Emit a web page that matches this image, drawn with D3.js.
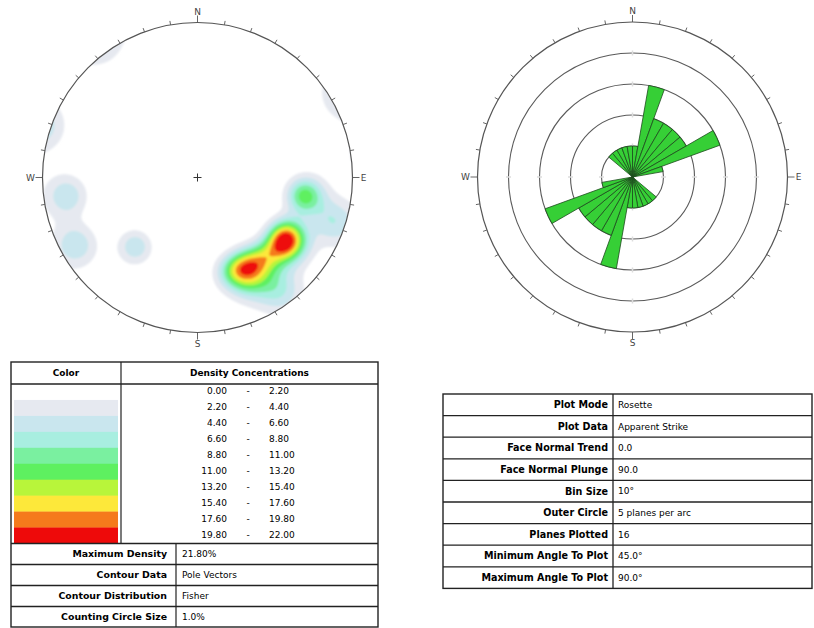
<!DOCTYPE html>
<html>
<head>
<meta charset="utf-8">
<script src="https://cdn.jsdelivr.net/npm/d3@7"></script>
<style>
  html, body { margin: 0; padding: 0; background: #fff; }
  svg { display: block; font-family: "DejaVu Sans", sans-serif; }
</style>
</head>
<body>
<svg id="chart" width="814" height="628"></svg>
<script>
// ---- compass ----
const compassLabels = ["N", "E", "S", "W"];
const compassBearings = [0, 90, 180, 270];

// ---- pole vectors (trend / plunge in degrees), lower hemisphere ----
const poleTrend  = [262, 241, 222, 108, 144,
                    99.4, 100.1,
                    155.3, 144.2, 149.1, 159.9, 152.5,
                    126.8, 124.2, 121.8, 128.5,
                    137.7];
const polePlunge = [  9,   6,  28,   4,   6,
                    20.8, 18.6,
                    23.4, 20.9, 25.2, 24.0, 15.5,
                    22.1, 17.8, 21.6, 18.4,
                    21.9];

// ---- contour intervals (% of total per 1% area) and fills ----
const densityLevels = [0, 2.2, 4.4, 6.6, 8.8, 11, 13.2, 15.4, 17.6, 19.8, 22];
const densityColors = ["#ffffff", "#e6e9f0", "#c9e6ee", "#a8eee0", "#7af0a0",
                       "#5ef060", "#b8f53a", "#fde83a", "#f57a1c", "#ee0a0a"];

// ---- rosette: apparent strike, 10 degree bins, planes per bin (0-180, mirrored) ----
const binStart = [0, 10, 20, 30, 40, 50, 60, 70, 80, 90, 100, 110, 120, 130, 140, 150, 160, 170];
const binCount = [1, 3, 2, 2, 2, 2, 3, 1, 0, 0, 0, 0, 0, 1, 1, 1, 1, 1];
const ringSteps = [1, 2, 3, 4, 5];

// ---- info tables ----
const contourRowLabels = ["Maximum Density", "Contour Data", "Contour Distribution", "Counting Circle Size"];
const contourRowValues = ["21.80%", "Pole Vectors", "Fisher", "1.0%"];
const roseRowLabels = ["Plot Mode", "Plot Data", "Face Normal Trend", "Face Normal Plunge", "Bin Size",
                       "Outer Circle", "Planes Plotted", "Minimum Angle To Plot", "Maximum Angle To Plot"];
const roseRowValues = ["Rosette", "Apparent Strike", "0.0", "90.0", "10°",
                       "5 planes per arc", "16", "45.0°", "90.0°"];

const svg = d3.select("#chart");
const rad = Math.PI / 180;

// ===================== stereonet density plot =====================
const st = { cx: 197.5, cy: 177.5, R: 155 };
const poleUnit = 6.25;            // density (%) under one isolated pole
const kernelRadius = 9 * rad;     // Fisher counting kernel angular width
const poles = poleTrend.map((t, i) => {
  const tr = t * rad, pl = polePlunge[i] * rad;
  return [Math.cos(pl) * Math.sin(tr), Math.cos(pl) * Math.cos(tr), -Math.sin(pl)];
});
const kappa = 2 / (kernelRadius * kernelRadius);

// density at a projected point (u east, v north, in units of R); axial data
function density(u, v) {
  const rho = Math.hypot(u, v);
  const pl = Math.PI / 2 - 2 * Math.atan(rho);   // equal-angle projection
  const tr = Math.atan2(u, v);
  const x = Math.cos(pl) * Math.sin(tr), y = Math.cos(pl) * Math.cos(tr), z = -Math.sin(pl);
  let s = 0;
  for (const p of poles) {
    const c = Math.abs(x * p[0] + y * p[1] + z * p[2]);
    s += Math.exp(kappa * (c - 1));
  }
  return s * poleUnit;
}

const n = Math.ceil(2 * st.R + 8);
const x0 = st.cx - n / 2, y0 = st.cy - n / 2;
const grid = new Float64Array(n * n);
for (let j = 0; j < n; j++) {
  for (let i = 0; i < n; i++) {
    const u = (x0 + i + 0.5 - st.cx) / st.R;
    const v = -(y0 + j + 0.5 - st.cy) / st.R;
    grid[j * n + i] = density(u, v);
  }
}

const bands = d3.contours().size([n, n]).thresholds(densityLevels.slice(1, -1))(grid);
const contourPath = d3.geoPath(d3.geoIdentity().translate([x0, y0]));

const defs = svg.append("defs");
defs.append("clipPath").attr("id", "netClip")
  .append("circle").attr("cx", st.cx).attr("cy", st.cy).attr("r", st.R);
defs.append("filter").attr("id", "soft").attr("x", "-5%").attr("y", "-5%").attr("width", "110%").attr("height", "110%")
  .append("feGaussianBlur").attr("stdDeviation", 1);

svg.append("g").attr("clip-path", "url(#netClip)")
  .append("g").attr("filter", "url(#soft)")
  .selectAll("path").data(bands).join("path")
  .attr("d", contourPath)
  .attr("fill", (d, i) => densityColors[i + 1])
  .attr("stroke", "none");

function drawCompass(c, labelOffsets) {
  const g = svg.append("g");
  g.append("circle").attr("cx", c.cx).attr("cy", c.cy).attr("r", c.R)
    .attr("fill", "none").attr("stroke", "#555").attr("stroke-width", 1.2);
  const ticks = d3.range(0, 360, 10);
  g.selectAll("line.tick").data(ticks).join("line").attr("class", "tick")
    .attr("x1", d => c.cx + c.R * Math.sin(d * rad))
    .attr("y1", d => c.cy - c.R * Math.cos(d * rad))
    .attr("x2", d => c.cx + (c.R + (d % 90 === 0 ? 7 : 4)) * Math.sin(d * rad))
    .attr("y2", d => c.cy - (c.R + (d % 90 === 0 ? 7 : 4)) * Math.cos(d * rad))
    .attr("stroke", "#555").attr("stroke-width", 0.9);
  g.selectAll("text.dir").data(compassLabels).join("text").attr("class", "dir")
    .attr("x", (d, i) => c.cx + (c.R + labelOffsets[i]) * Math.sin(compassBearings[i] * rad))
    .attr("y", (d, i) => c.cy - (c.R + labelOffsets[i]) * Math.cos(compassBearings[i] * rad))
    .attr("dy", "0.35em").attr("text-anchor", "middle")
    .attr("font-size", 9).attr("fill", "#444").text(d => d);
  return g;
}

const netG = drawCompass(st, [11, 11, 11, 12]);
// centre cross
netG.append("path")
  .attr("d", `M${st.cx - 4},${st.cy}H${st.cx + 4}M${st.cx},${st.cy - 4}V${st.cy + 4}`)
  .attr("stroke", "#333").attr("stroke-width", 1);

// ===================== rosette =====================
const ro = { cx: 632.5, cy: 177, R: 155 };
const rScale = d3.scaleLinear().domain([0, 5]).range([0, ro.R]);
const roseG = svg.append("g").attr("transform", `translate(${ro.cx},${ro.cy})`);

roseG.selectAll("circle.ring").data(ringSteps.slice(0, -1)).join("circle").attr("class", "ring")
  .attr("r", d => rScale(d)).attr("fill", "none")
  .attr("stroke", "#5a5a5a").attr("stroke-width", 1.1);

// faint markers where rings cross the axes
const ringMarks = [];
ringSteps.slice(0, -1).forEach(s => compassBearings.forEach(b => ringMarks.push({ s, b })));
roseG.selectAll("line.rmark").data(ringMarks).join("line").attr("class", "rmark")
  .attr("x1", d => (rScale(d.s) - 2.5) * Math.sin(d.b * rad))
  .attr("y1", d => -(rScale(d.s) - 2.5) * Math.cos(d.b * rad))
  .attr("x2", d => (rScale(d.s) + 2.5) * Math.sin(d.b * rad))
  .attr("y2", d => -(rScale(d.s) + 2.5) * Math.cos(d.b * rad))
  .attr("stroke", "#dcdcdc").attr("stroke-width", 1.5);

// petals: each bin and its opposite direction
const petals = [];
binStart.forEach((b, i) => {
  if (binCount[i] > 0) {
    petals.push({ a0: b, a1: b + 10, v: binCount[i] });
    petals.push({ a0: b + 180, a1: b + 190, v: binCount[i] });
  }
});
const petalArc = d3.arc().innerRadius(0)
  .outerRadius(d => rScale(d.v))
  .startAngle(d => d.a0 * rad).endAngle(d => d.a1 * rad);
roseG.selectAll("path.petal").data(petals).join("path").attr("class", "petal")
  .attr("d", petalArc)
  .attr("fill", "#36cf36").attr("stroke", "#1d4a1d").attr("stroke-width", 0.8)
  .attr("stroke-linejoin", "round");

drawCompass(ro, [11, 11, 11, 12]);

// ===================== density legend table =====================
const lt = { x: 11, y: 362, w: 367, headH: 22, rowH: 15.95, colX: 121, infoColX: 176, infoH: 21 };
const lg = svg.append("g");
const bandsTop = lt.y + lt.headH;
const bandsBottom = bandsTop + lt.rowH * densityColors.length;
const tableBottom = bandsBottom + lt.infoH * contourRowLabels.length - 0.5;

lg.selectAll("rect.sw").data(densityColors).join("rect").attr("class", "sw")
  .attr("x", lt.x + 3).attr("width", lt.colX - lt.x - 6)
  .attr("y", (d, i) => bandsTop + lt.rowH * i).attr("height", lt.rowH + 0.3)
  .attr("fill", d => d);

lg.append("rect").attr("x", lt.x).attr("y", lt.y).attr("width", lt.w)
  .attr("height", tableBottom - lt.y).attr("fill", "none").attr("stroke", "#222").attr("stroke-width", 1.4);
lg.append("line").attr("x1", lt.x).attr("x2", lt.x + lt.w).attr("y1", bandsTop).attr("y2", bandsTop)
  .attr("stroke", "#222").attr("stroke-width", 1.4);
lg.append("line").attr("x1", lt.colX).attr("x2", lt.colX).attr("y1", lt.y).attr("y2", bandsBottom)
  .attr("stroke", "#222").attr("stroke-width", 1.2);
lg.selectAll("line.ih").data(contourRowLabels).join("line").attr("class", "ih")
  .attr("x1", lt.x).attr("x2", lt.x + lt.w)
  .attr("y1", (d, i) => bandsBottom + lt.infoH * i).attr("y2", (d, i) => bandsBottom + lt.infoH * i)
  .attr("stroke", "#222").attr("stroke-width", 1.3);
lg.append("line").attr("x1", lt.infoColX).attr("x2", lt.infoColX).attr("y1", bandsBottom).attr("y2", tableBottom)
  .attr("stroke", "#222").attr("stroke-width", 1.2);

lg.append("text").attr("x", (lt.x + lt.colX) / 2).attr("y", lt.y + lt.headH / 2).attr("dy", "0.35em")
  .attr("text-anchor", "middle").attr("font-size", 9).attr("font-weight", "bold").text("Color");
lg.append("text").attr("x", (lt.colX + lt.x + lt.w) / 2).attr("y", lt.y + lt.headH / 2).attr("dy", "0.35em")
  .attr("text-anchor", "middle").attr("font-size", 9).attr("font-weight", "bold").text("Density Concentrations");

const rangeRows = densityColors.map((c, i) => [densityLevels[i], densityLevels[i + 1]]);
const rowY = i => bandsTop + lt.rowH * (i + 0.5) - 1;
lg.selectAll("text.lo").data(rangeRows).join("text").attr("class", "lo")
  .attr("x", 227).attr("y", (d, i) => rowY(i)).attr("dy", "0.35em")
  .attr("text-anchor", "end").attr("font-size", 9).text(d => d[0].toFixed(2));
lg.selectAll("text.dash").data(rangeRows).join("text").attr("class", "dash")
  .attr("x", 248).attr("y", (d, i) => rowY(i)).attr("dy", "0.35em")
  .attr("text-anchor", "middle").attr("font-size", 9).text("-");
lg.selectAll("text.hi").data(rangeRows).join("text").attr("class", "hi")
  .attr("x", 269).attr("y", (d, i) => rowY(i)).attr("dy", "0.35em")
  .attr("text-anchor", "start").attr("font-size", 9).text(d => d[1].toFixed(2));

lg.selectAll("text.il").data(contourRowLabels).join("text").attr("class", "il")
  .attr("x", lt.infoColX - 9).attr("y", (d, i) => bandsBottom + lt.infoH * (i + 0.5)).attr("dy", "0.35em")
  .attr("text-anchor", "end").attr("font-size", 9.4).attr("font-weight", "bold").text(d => d);
lg.selectAll("text.iv").data(contourRowValues).join("text").attr("class", "iv")
  .attr("x", lt.infoColX + 6).attr("y", (d, i) => bandsBottom + lt.infoH * (i + 0.5)).attr("dy", "0.35em")
  .attr("text-anchor", "start").attr("font-size", 9).text(d => d);

// ===================== rosette settings table =====================
const rt = { x: 443, y: 394, w: 369, rowH: 21.6, colX: 613 };
const rg = svg.append("g");
const rtBottom = rt.y + rt.rowH * roseRowLabels.length;
rg.append("rect").attr("x", rt.x).attr("y", rt.y).attr("width", rt.w).attr("height", rtBottom - rt.y)
  .attr("fill", "none").attr("stroke", "#222").attr("stroke-width", 1.4);
rg.selectAll("line.rh").data(roseRowLabels.slice(1)).join("line").attr("class", "rh")
  .attr("x1", rt.x).attr("x2", rt.x + rt.w)
  .attr("y1", (d, i) => rt.y + rt.rowH * (i + 1)).attr("y2", (d, i) => rt.y + rt.rowH * (i + 1))
  .attr("stroke", "#222").attr("stroke-width", 1.3);
rg.append("line").attr("x1", rt.colX).attr("x2", rt.colX).attr("y1", rt.y).attr("y2", rtBottom)
  .attr("stroke", "#222").attr("stroke-width", 1.3);
rg.selectAll("text.rl").data(roseRowLabels).join("text").attr("class", "rl")
  .attr("x", rt.colX - 5).attr("y", (d, i) => rt.y + rt.rowH * (i + 0.5)).attr("dy", "0.35em")
  .attr("text-anchor", "end").attr("font-size", 9.6).attr("font-weight", "bold").text(d => d);
rg.selectAll("text.rv").data(roseRowValues).join("text").attr("class", "rv")
  .attr("x", rt.colX + 5).attr("y", (d, i) => rt.y + rt.rowH * (i + 0.5)).attr("dy", "0.35em")
  .attr("text-anchor", "start").attr("font-size", 9).text(d => d);
</script>
</body>
</html>
